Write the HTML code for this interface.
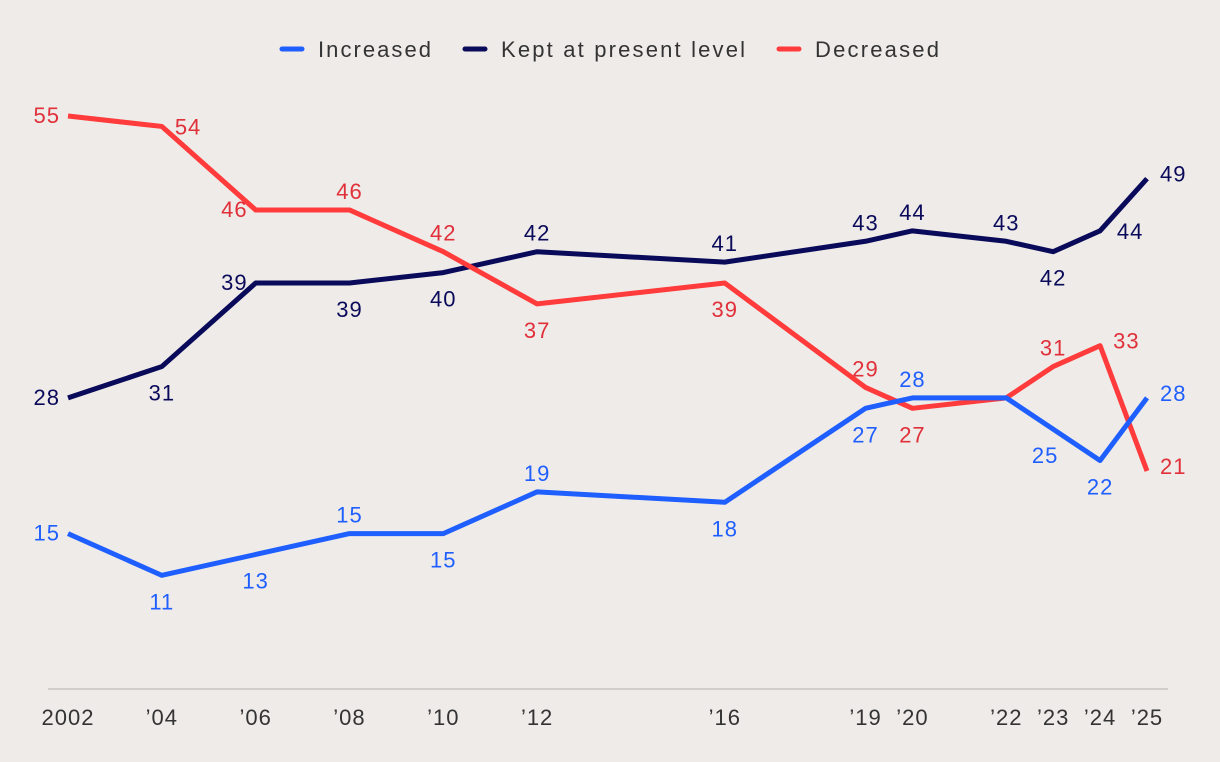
<!DOCTYPE html>
<html><head><meta charset="utf-8"><style>
body{margin:0;background:#efebe8;}
svg{display:block;font-family:"Liberation Sans",sans-serif;}
text{letter-spacing:1px;}
</style></head><body>
<svg id="c" width="1220" height="762">
<rect width="1220" height="762" fill="#efebe8"/>
<g>
<g><line x1="282" y1="49" x2="302" y2="49" stroke="#1f5fff" stroke-width="5" stroke-linecap="round"/><text x="318" y="57" font-size="22" fill="#333" textLength="114">Increased</text></g>
<g><line x1="465" y1="49" x2="485" y2="49" stroke="#0a0a5a" stroke-width="5" stroke-linecap="round"/><text x="501" y="57" font-size="22" fill="#333" textLength="245">Kept at present level</text></g>
<g><line x1="779" y1="49" x2="799" y2="49" stroke="#ff3b3b" stroke-width="5" stroke-linecap="round"/><text x="815" y="57" font-size="22" fill="#333" textLength="125">Decreased</text></g>
</g>
<line x1="48" y1="689" x2="1168" y2="689" stroke="#c8c4c0" stroke-width="1.5"/>
<g id="marks"></g>
</svg>
<script>
const years=[2002,2004,2006,2008,2010,2012,2016,2019,2020,2022,2023,2024,2025];
const tickLabels=["2002","’04","’06","’08","’10","’12","’16","’19","’20","’22","’23","’24","’25"];
const increased=[15,11,13,15,15,19,18,27,28,28,25,22,28];
const kept=[28,31,39,39,40,42,41,43,44,43,42,44,49];
const decreased=[55,54,46,46,42,37,39,29,27,28,31,33,21];
const incPos=["l","b","b","a","b","a","b","b","a","","bl","b","r"];
const keptPos=["l","b","l","b","b","a","a","a","a","a","b","br","r"];
const decPos=["l","r","l","a","a","b","b","a","b","","a","r","r"];
const X=y=>68+(y-2002)*(1147-68)/23;
const Y=v=>116+(55-v)*10.44;
const svg=document.getElementById('marks');
const NS="http://www.w3.org/2000/svg";
years.forEach((yr,i)=>{const t=document.createElementNS(NS,'text');t.setAttribute('x',X(yr));t.setAttribute('y',725);t.setAttribute('text-anchor','middle');t.setAttribute('font-size','22');t.setAttribute('fill','#333');t.textContent=tickLabels[i];


svg.appendChild(t);});
function series(vals,color,lab,pos,name){
const p=document.createElementNS(NS,'polyline');
p.setAttribute('points',vals.map((v,i)=>X(years[i])+','+Y(v)).join(' '));
p.setAttribute('fill','none');p.setAttribute('stroke',color);p.setAttribute('stroke-width','5');p.setAttribute('stroke-linejoin','round');


svg.appendChild(p);
vals.forEach((v,i)=>{const ps=pos[i];if(!ps)return;let x=X(years[i]),y=Y(v)+7,a='middle';
if(ps=='l'){x-=8;a='end';}else if(ps=='r'){x+=13;a='start';y=Y(v)+3;}else if(ps=='a'){y=Y(v)-11;}else if(ps=='b'){y=Y(v)+34;}else if(ps=='bl'){y=Y(v)+34;x-=8;}else if(ps=='br'){x+=30;y=Y(v)+8;}
if(ps=='r'&&i==1){y=Y(v)+8;}
const t=document.createElementNS(NS,'text');t.setAttribute('x',x);t.setAttribute('y',y);t.setAttribute('text-anchor',a);t.setAttribute('font-size','22');t.setAttribute('fill',lab);t.textContent=v;


svg.appendChild(t);});}
series(kept,'#0a0a5a','#0a0a5a',keptPos,'kept');
series(decreased,'#ff3b3b','#e0303a',decPos,'decreased');
series(increased,'#1f5fff','#1f5fff',incPos,'increased');
</script>
</body></html>
